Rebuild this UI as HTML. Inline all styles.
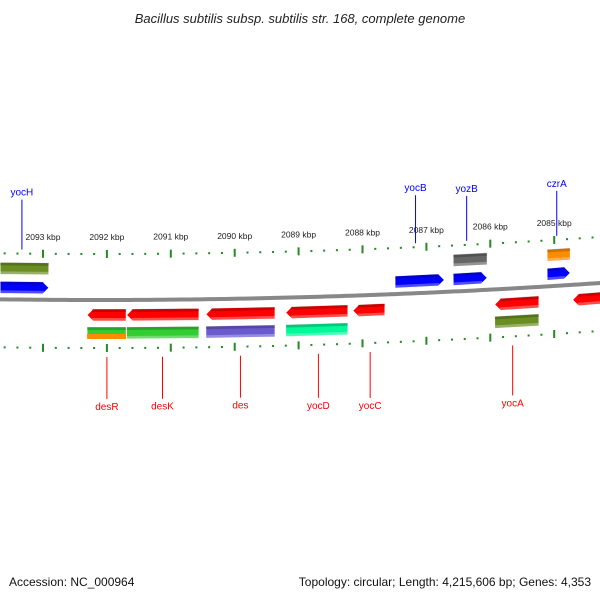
<!DOCTYPE html>
<html><head><meta charset="utf-8"><style>
body{margin:0;background:#fff;}
svg{display:block;font-family:"Liberation Sans","DejaVu Sans",sans-serif;}
</style></head><body>
<svg width="600" height="600" viewBox="0 0 600 600">
<text x="300" y="23" text-anchor="middle" font-size="13" font-style="italic" fill="#222">Bacillus subtilis subsp. subtilis str. 168, complete genome</text>
<g id="ticks"></g>
<path id="backbone" fill="none" stroke="#888" stroke-width="4"></path>
<g id="genes"></g>
<g id="labels"></g>
<text x="9" y="586" font-size="12" fill="#111">Accession: NC_000964</text>
<text x="591" y="586" font-size="12" fill="#111" text-anchor="end">Topology: circular; Length: 4,215,606 bp; Genes: 4,353</text>
</svg>
<script>
const tickKbp=[2093,2092,2091,2090,2089,2088,2087,2086,2085];
const geneStart=[2093.67,2087.49,2086.58,2085.11, 2093.67,2086.58,2085.11, 2091.70,2090.56,2089.37,2088.23,2087.65,2085.24,2084.13, 2092.31,2091.69,2090.45,2089.20,2085.93];
const geneEnd  =[2092.91,2086.72,2086.05,2084.75, 2092.91,2086.05,2084.75, 2092.31,2091.69,2090.45,2089.20,2088.15,2085.93,2084.71, 2091.70,2090.56,2089.37,2088.23,2085.24];
const geneLane =[1,1,1,1, 2,2,2, -1,-1,-1,-1,-1,-1,-1, -2,-2,-2,-2,-2];
const geneColor=["#0000ff","#0000ff","#0000ff","#0000ff","#6b8e23","#666666","#ff8c00","#ff0000","#ff0000","#ff0000","#ff0000","#ff0000","#ff0000","#ff0000","#32cd32","#32cd32","#6a5acd","#00fa9a","#6b8e23"];
const labelText=["yocH","yocB","yozB","czrA","desR","desK","des","yocD","yocC","yocA"];
const labelKbp=[2093.33,2087.17,2086.37,2084.96,2092.00,2091.13,2089.91,2088.69,2087.88,2085.65];
const labelSide=[1,1,1,1,-1,-1,-1,-1,-1,-1];
const labelLen=[50,48,45,45,42,42,42,44,46,50];

const NS="http://www.w3.org/2000/svg";
function X(k){return 43+(2093-k)*63.9;}
function B(x){return 300-6.8e-5*(x-100)*(x-100);}
function mk(tag,attrs,parent){const e=document.createElementNS(NS,tag);for(const a in attrs)e.setAttribute(a,attrs[a]);parent.appendChild(e);return e;}
let d="";for(let x=-5;x<=605;x+=5){d+=(x==-5?"M":"L")+x+","+B(x).toFixed(2);}
document.getElementById("backbone").setAttribute("d",d);
const tg=document.getElementById("ticks");
for(let k=2094;k>=2083.5;k-=0.2){
  const kk=Math.round(k*10)/10;const x=X(kk);if(x<-2||x>602)continue;
  const major=Math.abs(kk-Math.round(kk))<0.01;
  [-46,48].forEach(off=>{const y=B(x)+off;
    const t=mk("line",{x1:x,x2:x,y1:major?y-4:y-1,y2:major?y+4:y+1,stroke:"#228b22","stroke-width":2},tg);
    
    
  });
}
tickKbp.forEach(k=>{const x=X(k);
  const t=mk("text",{x:x,y:B(x)-60,"font-size":8.5,"text-anchor":"middle",fill:"#222"},tg);t.textContent=k+" kbp";
  
  
});
const gg=document.getElementById("genes");
const laneOff={1:-12,2:-31,"-1":15,"-2":33};
geneStart.forEach((s,i)=>{
  const a=X(s),b=X(geneEnd[i]);const x1=Math.min(a,b),x2=Math.max(a,b);const off=laneOff[geneLane[i]];
  const y1=B(x1)+off,y2=B(x2)+off,h=6;const fwd=geneLane[i]==1,rev=geneLane[i]==-1;
  let pts;
  if(fwd)pts=[[x1,y1-h],[x2-6,y2-h],[x2,y2],[x2-6,y2+h],[x1,y1+h]];
  else if(rev)pts=[[x1+6,y1-h],[x2,y2-h],[x2,y2+h],[x1+6,y1+h],[x1,y1]];
  else pts=[[x1,y1-h],[x2,y2-h],[x2,y2+h],[x1,y1+h]];
  const p=mk("polygon",{points:pts.map(q=>q.join(",")).join(" "),fill:geneColor[i],stroke:"#fff","stroke-width":0.6},gg);
  
  
  const sh=mk("line",{x1:x1+(rev?5:0),y1:y1-h+1.5,x2:x2-(fwd?5:0),y2:y2-h+1.5,stroke:"#000","stroke-opacity":0.2,"stroke-width":3},gg);
  
  
  const lt=mk("line",{x1:x1+(rev?5:0),y1:y1+h-1.5,x2:x2-(fwd?5:0),y2:y2+h-1.5,stroke:"#fff","stroke-opacity":0.3,"stroke-width":3},gg);
  
  
  if(i==14){const o=mk("rect",{x:x1,y:y1+1,width:x2-x1,height:h-1,fill:"#ff8c00"},gg);
    
    }
});
const lg=document.getElementById("labels");
labelText.forEach((t,i)=>{
  const x=X(labelKbp[i]);const col=labelSide[i]>0?"#0000ff":"#ff0000";
  let ya,yb,ty;
  if(labelSide[i]>0){ya=B(x)-50;yb=ya-labelLen[i];ty=yb-4;}
  else{ya=B(x)+57;yb=ya+labelLen[i];ty=yb+11;}
  const l=mk("line",{x1:x,x2:x,y1:ya,y2:yb,stroke:col,"stroke-width":1},lg);
  
  
  const tx=mk("text",{x:x,y:ty,"font-size":10,"text-anchor":"middle",fill:col},lg);tx.textContent=t;
  
  
});
</script>
</body></html>
